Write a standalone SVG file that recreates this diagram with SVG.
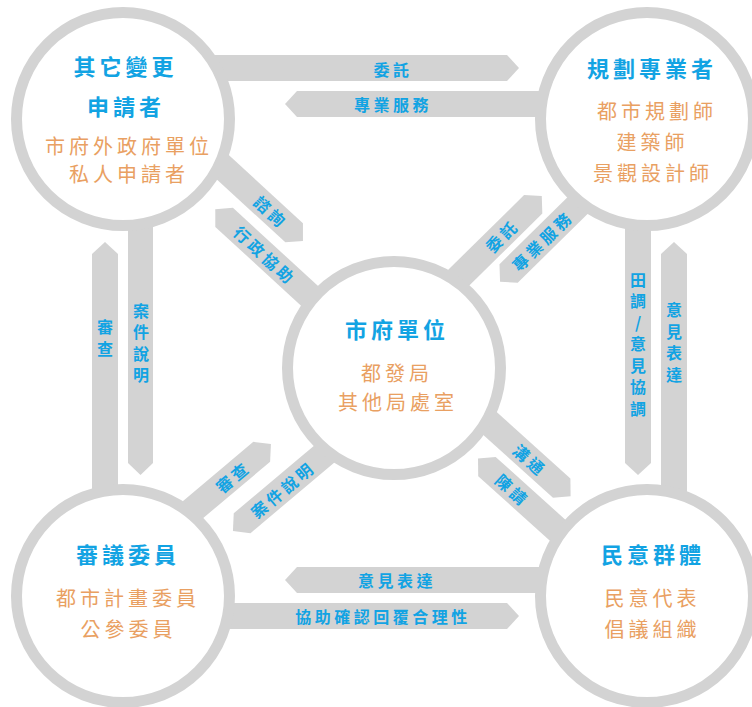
<svg xmlns="http://www.w3.org/2000/svg" width="752" height="707" viewBox="0 0 752 707">
<style>
.band{fill:#d3d3d3}
.ring{fill:#fff;stroke:#d3d3d3;stroke-width:11}
.lbl{font-family:"Noto Sans CJK TC","Noto Sans CJK SC",sans-serif;font-size:16px;font-weight:700;fill:#12a3e3;text-anchor:middle;dominant-baseline:central;letter-spacing:3.5px}
.vl{font-family:"Noto Sans CJK TC","Noto Sans CJK SC",sans-serif;font-size:16px;font-weight:700;fill:#12a3e3;text-anchor:middle;writing-mode:vertical-rl;text-orientation:upright;letter-spacing:5.5px}
.ttl{font-family:"Noto Sans CJK TC","Noto Sans CJK SC",sans-serif;font-size:22px;font-weight:700;fill:#12a3e3;text-anchor:middle;dominant-baseline:central;letter-spacing:4px}
.sub{font-family:"Noto Sans CJK TC","Noto Sans CJK SC",sans-serif;font-size:20px;font-weight:400;fill:#e9a062;text-anchor:middle;dominant-baseline:central;letter-spacing:4px}
</style>
<rect width="752" height="707" fill="#fff"/>
<g id="connectors">
  <polygon class="band" points="123,55 507,55 519,68 507,81 123,81"/>
  <polygon class="band" points="647,91 297,91 285,104 297,117 647,117"/>
  <polygon class="band" points="647,567 297,567 285,580 297,593 647,593"/>
  <polygon class="band" points="123,603 507,603 519,616 507,629 123,629"/>
  <polygon class="band" points="92,596 92,254 105,242 118,254 118,596"/>
  <polygon class="band" points="128,119 128,463 140.5,475 153,463 153,119"/>
  <polygon class="band" points="625,119 625,463 638,475 651,463 651,119"/>
  <polygon class="band" points="661,596 661,254 674,242 687,254 687,596"/>
  <g transform="translate(123,119) rotate(42.58)">
    <polygon class="band" points="0,-45 203,-45 215,-32 203,-19 0,-19"/>
    <polygon class="band" points="368,-9 141,-9 129,4 141,17 368,17"/>
  </g>
  <g transform="translate(394,368) rotate(-44.54)">
    <polygon class="band" points="0,-32 214,-32 226,-19 214,-6 0,-6"/>
    <polygon class="band" points="355,0 148,0 136,13 148,26 355,26"/>
  </g>
  <g transform="translate(123,596) rotate(-40.08)">
    <polygon class="band" points="0,-34 199,-34 211,-21 199,-8 0,-8"/>
    <polygon class="band" points="354,8 138,8 126,21 138,34 354,34"/>
  </g>
  <g transform="translate(394,368) rotate(42.02)">
    <polygon class="band" points="0,-36 205,-36 217,-23 205,-10 0,-10"/>
    <polygon class="band" points="341,-2 135,-2 123,11 135,24 341,24"/>
  </g>
</g>
<g id="node-tl">
  <circle class="ring" cx="123" cy="119" r="106.5"/>
  <text class="ttl" x="125.5" y="65">其它變更</text>
  <text class="ttl" x="126" y="105">申請者</text>
  <text class="sub" x="129" y="145">市府外政府單位</text>
  <text class="sub" x="129" y="173">私人申請者</text>
</g>
<g id="node-tr">
  <circle class="ring" cx="647" cy="119" r="106.5"/>
  <text class="ttl" x="652" y="67">規劃專業者</text>
  <text class="sub" x="657" y="110">都市規劃師</text>
  <text class="sub" x="652.5" y="141">建築師</text>
  <text class="sub" x="653" y="172">景觀設計師</text>
</g>
<g id="node-center">
  <circle class="ring" cx="394" cy="368" r="106.5"/>
  <text class="ttl" x="397" y="328">市府單位</text>
  <text class="sub" x="397" y="372">都發局</text>
  <text class="sub" x="398" y="401">其他局處室</text>
</g>
<g id="node-bl">
  <circle class="ring" cx="123" cy="596" r="106.5"/>
  <text class="ttl" x="128" y="553">審議委員</text>
  <text class="sub" x="128" y="597">都市計畫委員</text>
  <text class="sub" x="128.5" y="628">公參委員</text>
</g>
<g id="node-br">
  <circle class="ring" cx="647" cy="596" r="106.5"/>
  <text class="ttl" x="653" y="553">民意群體</text>
  <text class="sub" x="652.5" y="597">民意代表</text>
  <text class="sub" x="652.5" y="628">倡議組織</text>
</g>
<g id="labels">
  <text class="lbl" x="393" y="69">委託</text>
  <text class="lbl" x="393" y="104">專業服務</text>
  <text class="lbl" x="397" y="580">意見表達</text>
  <text class="lbl" x="383" y="616">協助確認回覆合理性</text>
  <text class="vl" x="105" y="340.5">審查</text>
  <text class="vl" x="141" y="345.5">案件說明</text>
  <text class="vl" x="638" y="347">田調/意見協調</text>
  <text class="vl" x="674" y="345">意見表達</text>
  <g transform="translate(123,119) rotate(42.58)">
    <text class="lbl" x="172" y="-32">諮詢</text>
    <text class="lbl" x="197" y="4">行政協助</text>
  </g>
  <g transform="translate(394,368) rotate(-44.54)">
    <text class="lbl" x="170" y="-19">委託</text>
    <text class="lbl" x="195" y="13">專業服務</text>
  </g>
  <g transform="translate(123,596) rotate(-40.08)">
    <text class="lbl" x="161" y="-21">審查</text>
    <text class="lbl" x="191" y="21">案件說明</text>
  </g>
  <g transform="translate(394,368) rotate(42.02)">
    <text class="lbl" x="163" y="-23">溝通</text>
    <text class="lbl" x="170" y="11">陳請</text>
  </g>
</g>
</svg>
